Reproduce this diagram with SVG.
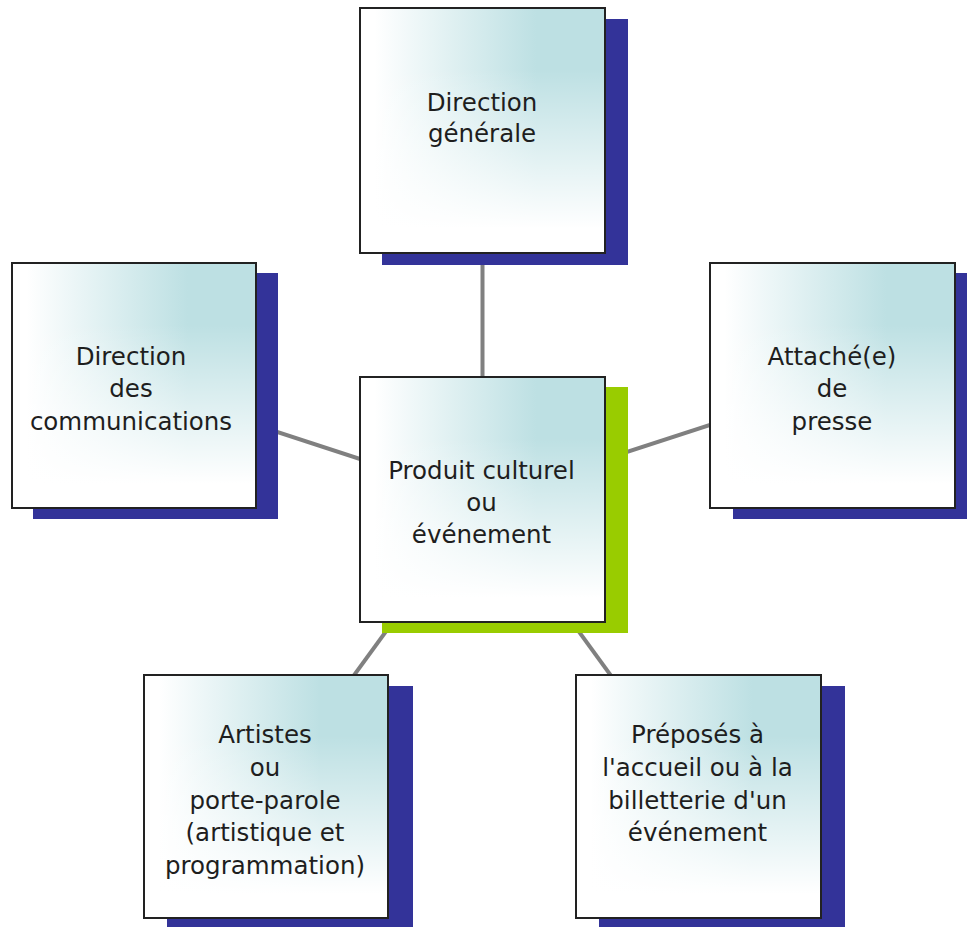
<svg xmlns="http://www.w3.org/2000/svg" width="967" height="927" viewBox="0 0 967 927">
  <defs>
    <linearGradient id="hGrad" x1="0" y1="0" x2="1" y2="0">
      <stop offset="0.06" stop-color="#ffffff"/>
      <stop offset="0.72" stop-color="#bde0e3"/>
      <stop offset="1" stop-color="#bde0e3"/>
    </linearGradient>
    <linearGradient id="vGrad" x1="0" y1="0" x2="0" y2="1">
      <stop offset="0.25" stop-color="#ffffff" stop-opacity="0"/>
      <stop offset="0.9" stop-color="#ffffff" stop-opacity="1"/>
    </linearGradient>
    <style>
      .fill { fill: url(#hGrad); }
      .fade { fill: url(#vGrad); }
      .border { fill: none; stroke: #222222; stroke-width: 2; }
      .shadow { fill: #333399; }
      .shadow-green { fill: #99cc00; }
      .conn { stroke: #808080; stroke-width: 4; fill: none; }
      .label { font-family: "DejaVu Sans", "Liberation Sans", sans-serif; font-size: 24.5px; fill: #1e1e1e; text-anchor: middle; }
    </style>
  </defs>
  <rect width="967" height="927" fill="#ffffff"/>

  <g id="connectors">
    <line class="conn" x1="482.5" y1="499" x2="482.5" y2="130"/>
    <line class="conn" x1="482.5" y1="499" x2="133.5" y2="385"/>
    <line class="conn" x1="482.5" y1="499" x2="832.5" y2="385"/>
    <line class="conn" x1="482.5" y1="499" x2="266" y2="796"/>
    <line class="conn" x1="482.5" y1="499" x2="698.5" y2="796"/>
  </g>

  <g id="node-direction-generale">
    <rect class="shadow" x="382" y="19" width="246" height="246"/>
    <rect class="fill" x="360" y="8" width="245" height="245"/>
    <rect class="fade" x="360" y="8" width="245" height="245"/>
    <rect class="border" x="360" y="8" width="245" height="245"/>
    <text class="label" x="482" y="111">Direction</text>
    <text class="label" x="482" y="142">générale</text>
  </g>

  <g id="node-direction-communications">
    <rect class="shadow" x="33" y="273" width="245" height="246"/>
    <rect class="fill" x="12" y="263" width="244" height="245"/>
    <rect class="fade" x="12" y="263" width="244" height="245"/>
    <rect class="border" x="12" y="263" width="244" height="245"/>
    <text class="label" x="131" y="365">Direction</text>
    <text class="label" x="131" y="397">des</text>
    <text class="label" x="131" y="430">communications</text>
  </g>

  <g id="node-attache-presse">
    <rect class="shadow" x="733" y="273" width="246" height="246"/>
    <rect class="fill" x="710" y="263" width="245" height="245"/>
    <rect class="fade" x="710" y="263" width="245" height="245"/>
    <rect class="border" x="710" y="263" width="245" height="245"/>
    <text class="label" x="832" y="365">Attaché(e)</text>
    <text class="label" x="832" y="397">de</text>
    <text class="label" x="832" y="430">presse</text>
  </g>

  <g id="node-produit-culturel">
    <rect class="shadow-green" x="382" y="387" width="246" height="246"/>
    <rect class="fill" x="360" y="377" width="245" height="245"/>
    <rect class="fade" x="360" y="377" width="245" height="245"/>
    <rect class="border" x="360" y="377" width="245" height="245"/>
    <text class="label" x="481.5" y="479">Produit culturel</text>
    <text class="label" x="481.5" y="511">ou</text>
    <text class="label" x="481.5" y="543">événement</text>
  </g>

  <g id="node-artistes">
    <rect class="shadow" x="167" y="686" width="246" height="246"/>
    <rect class="fill" x="144" y="675" width="244" height="243"/>
    <rect class="fade" x="144" y="675" width="244" height="243"/>
    <rect class="border" x="144" y="675" width="244" height="243"/>
    <text class="label" x="265" y="743">Artistes</text>
    <text class="label" x="265" y="776">ou</text>
    <text class="label" x="265" y="809">porte-parole</text>
    <text class="label" x="265" y="841">(artistique et</text>
    <text class="label" x="265" y="874">programmation)</text>
  </g>

  <g id="node-preposes">
    <rect class="shadow" x="599" y="686" width="246" height="246"/>
    <rect class="fill" x="576" y="675" width="245" height="243"/>
    <rect class="fade" x="576" y="675" width="245" height="243"/>
    <rect class="border" x="576" y="675" width="245" height="243"/>
    <text class="label" x="697.5" y="743">Préposés à</text>
    <text class="label" x="697.5" y="776">l'accueil ou à la</text>
    <text class="label" x="697.5" y="809">billetterie d'un</text>
    <text class="label" x="697.5" y="841">événement</text>
  </g>
</svg>
